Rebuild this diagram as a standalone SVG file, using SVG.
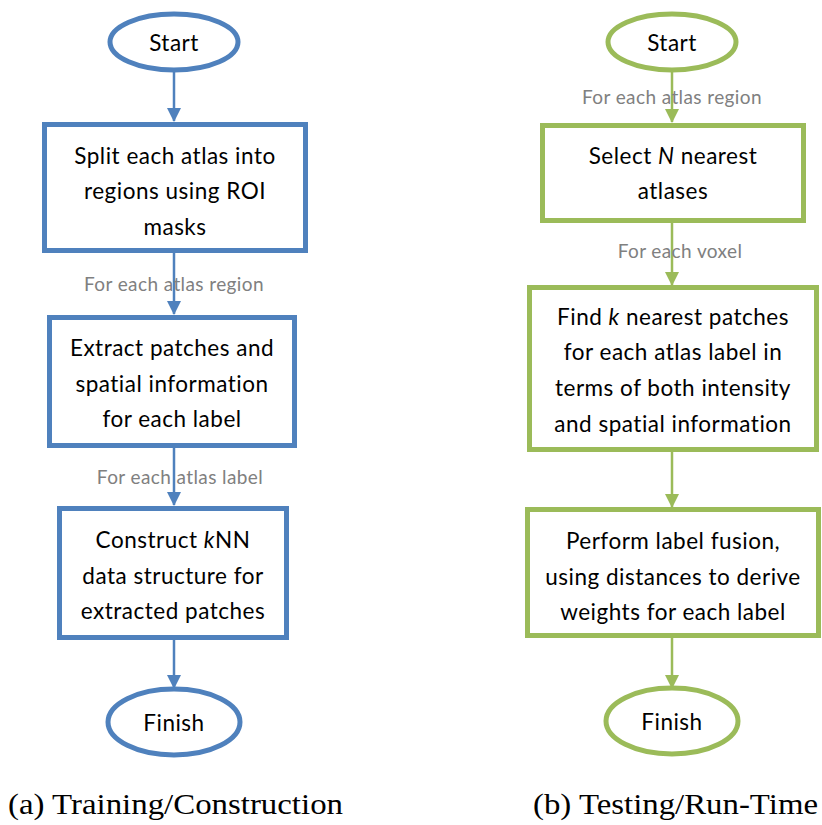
<svg xmlns="http://www.w3.org/2000/svg" width="822" height="825" viewBox="0 0 822 825">
<style>
.b{fill:#fff;stroke:#4F81BD;stroke-width:5}
.g{fill:#fff;stroke:#9BBB59;stroke-width:5}
.t{font-family:Lato,"Liberation Sans",sans-serif;font-size:22.5px;letter-spacing:0.5px;fill:#000;text-anchor:middle;dominant-baseline:central}
.l{font-family:Lato,"Liberation Sans",sans-serif;font-size:19px;letter-spacing:0.4px;fill:#808080;text-anchor:middle;dominant-baseline:central}
.cb{stroke:#4F81BD;stroke-width:2.5;fill:none}
.cg{stroke:#9BBB59;stroke-width:2.5;fill:none}
.cap{font-family:"Liberation Serif",serif;font-size:29px;fill:#000}
</style>
<defs>
<marker id="ab" markerWidth="14" markerHeight="14" refX="13" refY="7" orient="auto" markerUnits="userSpaceOnUse"><path d="M0,0 L14,7 L0,14 Z" fill="#4F81BD"/></marker>
<marker id="ag" markerWidth="14" markerHeight="14" refX="13" refY="7" orient="auto" markerUnits="userSpaceOnUse"><path d="M0,0 L14,7 L0,14 Z" fill="#9BBB59"/></marker>
</defs>
<g id="connectors">
<line class="cb" x1="174" y1="72" x2="174" y2="121" marker-end="url(#ab)"/>
<line class="cb" x1="174" y1="253" x2="174" y2="314" marker-end="url(#ab)"/>
<line class="cb" x1="174" y1="448" x2="174" y2="505" marker-end="url(#ab)"/>
<line class="cb" x1="174" y1="640" x2="174" y2="688" marker-end="url(#ab)"/>
<line class="cg" x1="672" y1="72" x2="672" y2="122" marker-end="url(#ag)"/>
<line class="cg" x1="672" y1="223" x2="672" y2="285" marker-end="url(#ag)"/>
<line class="cg" x1="672" y1="452" x2="672" y2="507" marker-end="url(#ag)"/>
<line class="cg" x1="672" y1="638" x2="672" y2="688" marker-end="url(#ag)"/>
<text class="l" x="174" y="283">For each atlas region</text>
<text class="l" x="180" y="476">For each atlas label</text>
<text class="l" x="672" y="96">For each atlas region</text>
<text class="l" x="680" y="250">For each voxel</text>
</g>
<g id="startA"><ellipse class="b" cx="174" cy="42" rx="64" ry="28"/><text class="t" x="174" y="42">Start</text></g>
<g id="splitA"><rect class="b" x="44.5" y="124.5" width="261" height="126"/>
<text class="t" x="175" y="155">Split each atlas into</text><text class="t" x="175" y="190">regions using ROI</text><text class="t" x="175" y="226">masks</text></g>
<g id="extractA"><rect class="b" x="49.5" y="317.5" width="245" height="128"/>
<text class="t" x="172" y="347">Extract patches and</text><text class="t" x="172" y="383">spatial information</text><text class="t" x="172" y="418">for each label</text></g>
<g id="constructA"><rect class="b" x="59.5" y="508.5" width="227" height="129"/>
<text class="t" x="173" y="539">Construct <tspan font-style="italic">k</tspan>NN</text><text class="t" x="173" y="575">data structure for</text><text class="t" x="173" y="610">extracted patches</text></g>
<g id="finishA"><ellipse class="b" cx="174" cy="722" rx="66" ry="33"/><text class="t" x="174" y="722">Finish</text></g>
<g id="startB"><ellipse class="g" cx="672" cy="42" rx="64" ry="28"/><text class="t" x="672" y="42">Start</text></g>
<g id="selectB"><rect class="g" x="542.5" y="125.5" width="261" height="95"/>
<text class="t" x="673" y="155">Select <tspan font-style="italic">N</tspan> nearest</text><text class="t" x="673" y="190">atlases</text></g>
<g id="findB"><rect class="g" x="529.5" y="287.5" width="287" height="162"/>
<text class="t" x="673" y="316">Find <tspan font-style="italic">k</tspan> nearest patches</text><text class="t" x="673" y="351">for each atlas label in</text><text class="t" x="673" y="387">terms of both intensity</text><text class="t" x="673" y="423">and spatial information</text></g>
<g id="fusionB"><rect class="g" x="527.5" y="509.5" width="291" height="126"/>
<text class="t" x="673" y="540">Perform label fusion,</text><text class="t" x="673" y="576">using distances to derive</text><text class="t" x="673" y="611">weights for each label</text></g>
<g id="finishB"><ellipse class="g" cx="672" cy="721" rx="66" ry="33"/><text class="t" x="672" y="721">Finish</text></g>
<text class="cap" x="8" y="814" textLength="335" lengthAdjust="spacingAndGlyphs">(a) Training/Construction</text>
<text class="cap" x="533" y="814" textLength="285" lengthAdjust="spacingAndGlyphs">(b) Testing/Run-Time</text>
</svg>
